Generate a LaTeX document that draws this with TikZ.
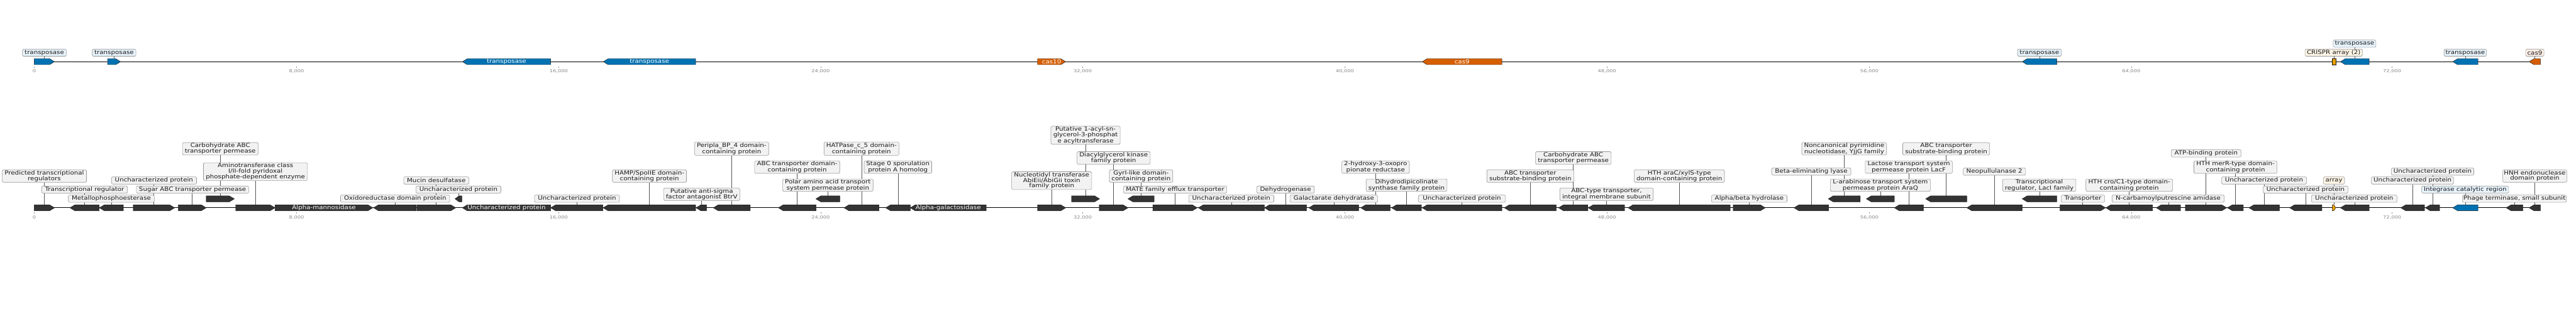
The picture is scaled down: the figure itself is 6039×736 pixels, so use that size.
\documentclass[tikz,border=0pt]{standalone}
\usepackage{fontspec}
\newfontfamily\labfamily[FakeStretch=1.14]{DejaVu Sans}
\newfontfamily\tickfamily[FakeStretch=1.25]{DejaVu Sans}
\definecolor{geneblue}{HTML}{0072B2}
\definecolor{casred}{HTML}{D55E00}
\definecolor{crisprorange}{HTML}{E69F00}
\definecolor{genedark}{HTML}{333333}
\definecolor{lblue}{HTML}{E6F3FB}
\definecolor{lyellow}{HTML}{FDF5E6}
\definecolor{lorange}{HTML}{FCEEE6}
\definecolor{lgray}{HTML}{F2F2F2}
\definecolor{labgray}{HTML}{999999}
\definecolor{leadgray}{HTML}{555555}
\definecolor{tickgray}{HTML}{888888}
\definecolor{textdark}{HTML}{1A1A1A}
\pgfdeclarelayer{bg}
\pgfsetlayers{bg,main}
\tikzset{
  genebody/.style={draw=black!90, line width=0.7pt, line join=miter},
  genenode/.style={inner sep=0pt, minimum height=14pt, text=white, font=\labfamily\fontsize{13.3}{12}\selectfont},
  lab/.style={draw=labgray, line width=0.9pt, rounded corners=2.5pt, inner sep=0pt, align=center, text=textdark, font=\labfamily\fontsize{13.3}{12}\selectfont},
  leader/.style={draw=leadgray, line width=0.8pt},
  backbone/.style={draw=black, line width=1.7pt},
  ticklab/.style={text=tickgray, font=\tickfamily\fontsize{9.8}{10}\selectfont, inner sep=0pt},
  tickmark/.style={draw=tickgray, line width=0.8pt},
}
% forward gene: name, x1, x2, yc, fill, text
\newcommand\GeneF[6]{%
  \path[genebody, fill=#5] (#2,#4-7) -- ({#3-min(11.5,0.6*(#3-#2))},#4-7) -- (#3,#4) -- ({#3-min(11.5,0.6*(#3-#2))},#4+7) -- (#2,#4+7) -- cycle;
  \node[genenode, minimum width={#3-#2}] (#1) at ({(#2+#3)/2},#4) {#6};}
% reverse gene
\newcommand\GeneR[6]{%
  \path[genebody, fill=#5] (#3,#4-7) -- ({#2+min(11.5,0.6*(#3-#2))},#4-7) -- (#2,#4) -- ({#2+min(11.5,0.6*(#3-#2))},#4+7) -- (#3,#4+7) -- cycle;
  \node[genenode, minimum width={#3-#2}] (#1) at ({(#2+#3)/2},#4) {#6};}
% label: name, x1, x2, y1, y2, text, fill
\newcommand\Lbl[7]{%
  \node[lab, fill=#7, minimum width={#3-#2}, minimum height={#5-#4}] (#1) at ({(#2+#3)/2},{(#4+#5)/2}) {#6};}
% leader from gene to label
\newcommand\Ldr[2]{\begin{pgfonlayer}{bg}\draw[leader] (#1.north) -- (#1.north |- #2.south);\end{pgfonlayer}}
% tick: name, x, yline, text
\newcommand\Tck[4]{%
  \draw[tickmark] (#2,#3+11.3) -- (#2,#3+14);
  \node[ticklab] (#1) at (#2,#3+22.6) {#4};}
\begin{document}
\begin{tikzpicture}[x=1pt,y=-1pt]
\useasboundingbox (0,0) rectangle (6039,736);
% ================= TOP TRACK =================
\GeneF{t1}{80.3}{127.7}{144.85}{geneblue}{}
\GeneF{t2}{252.3}{282.7}{144.85}{geneblue}{}
\GeneR{t3}{1084}{1291}{144.85}{geneblue}{transposase}
\GeneR{t4}{1414.3}{1630.7}{144.85}{geneblue}{transposase}
\GeneF{t5}{2432.3}{2498.3}{144.85}{casred}{cas10}
\GeneR{t6}{3334}{3521}{144.85}{casred}{cas9}
\GeneR{t7}{4740.7}{4821.7}{144.85}{geneblue}{}
\node[genebody, fill=crisprorange, inner sep=0pt, minimum width=9pt, minimum height=14pt] (t8) at (5471.5,144.85) {};
\GeneR{t9}{5486.7}{5554}{144.85}{geneblue}{}
\GeneR{t10}{5750}{5809}{144.85}{geneblue}{}
\GeneR{t11}{5929}{5955.3}{144.85}{casred}{}
\begin{pgfonlayer}{bg}\draw[backbone] (t1.west) -- (t11.east);\end{pgfonlayer}
\Lbl{Lt1}{52.7}{155.3}{115.3}{132}{transposase}{lblue}
\Lbl{Lt2}{216.3}{318.7}{115.3}{132}{transposase}{lblue}
\Lbl{Lt7}{4729.7}{4832.3}{115.3}{132}{transposase}{lblue}
\Lbl{Lt8}{5403.7}{5538}{115.3}{132}{CRISPR array (2)}{lyellow}
\Lbl{Lt9}{5469.7}{5570}{94}{110.7}{transposase}{lblue}
\Lbl{Lt10}{5729.7}{5829}{115.3}{132}{transposase}{lblue}
\Lbl{Lt11}{5920.7}{5964}{115.3}{132}{cas9}{lorange}
\Ldr{t1}{Lt1}\Ldr{t2}{Lt2}\Ldr{t7}{Lt7}\Ldr{t8}{Lt8}\Ldr{t9}{Lt9}\Ldr{t10}{Lt10}\Ldr{t11}{Lt11}
\Tck{k0}{80.3}{144.7}{0}
\Tck{k1}{695.3}{144.7}{8,000}
\Tck{k2}{1309.7}{144.7}{16,000}
\Tck{k3}{1924}{144.7}{24,000}
\Tck{k4}{2538.3}{144.7}{32,000}
\Tck{k5}{3153}{144.7}{40,000}
\Tck{k6}{3767.3}{144.7}{48,000}
\Tck{k7}{4382.3}{144.7}{56,000}
\Tck{k8}{4996.3}{144.7}{64,000}
\Tck{k9}{5608}{144.7}{72,000}
% ================= BOTTOM TRACK =================
\GeneF{b1}{80.3}{127.7}{487.85}{genedark}{}
\GeneR{b2}{164}{232.3}{487.85}{genedark}{}
\GeneR{b3}{233}{289.3}{487.85}{genedark}{}
\GeneF{b4}{312.3}{409.3}{487.85}{genedark}{}
\GeneF{b5}{418.3}{483.3}{487.85}{genedark}{}
\GeneF{b6}{483.3}{549.3}{466.85}{genedark}{}
\GeneF{b7}{552.7}{644.7}{487.85}{genedark}{}
\GeneF{b8}{644.7}{874}{487.85}{genedark}{Alpha-mannosidase}
\GeneR{b9}{875.7}{975.7}{487.85}{genedark}{}
\GeneF{b10}{977.3}{1068.3}{487.85}{genedark}{}
\GeneR{b11}{1066.7}{1082.7}{466.85}{genedark}{}
\GeneR{b12}{1084}{1291}{487.85}{genedark}{Uncharacterized protein}
\GeneR{b13}{1291}{1413.3}{487.85}{genedark}{}
\GeneR{b14}{1414}{1630.7}{487.85}{genedark}{}
\GeneR{b15}{1631.7}{1656.3}{487.85}{genedark}{}
\GeneR{b16}{1672.3}{1758.7}{487.85}{genedark}{}
\GeneR{b17}{1824.7}{1913.3}{487.85}{genedark}{}
\GeneR{b18}{1912.7}{1968.7}{466.85}{genedark}{}
\GeneR{b19}{1978.7}{2060.7}{487.85}{genedark}{}
\GeneR{b20}{2076.3}{2134}{487.85}{genedark}{}
\GeneR{b21}{2134}{2312}{487.85}{genedark}{Alpha-galactosidase}
\GeneF{b22}{2432.3}{2498.3}{487.85}{genedark}{}
\GeneF{b23}{2512}{2577.7}{466.85}{genedark}{}
\GeneF{b24}{2577}{2644.3}{487.85}{genedark}{}
\GeneR{b25}{2644.3}{2705.7}{466.85}{genedark}{}
\GeneF{b26}{2702.7}{2806.7}{487.85}{genedark}{}
\GeneR{b27}{2809.3}{2964}{487.85}{genedark}{}
\GeneR{b28}{2964.3}{3062.7}{487.85}{genedark}{}
\GeneR{b29}{3068.3}{3185.3}{487.85}{genedark}{}
\GeneR{b30}{3190}{3258.7}{487.85}{genedark}{}
\GeneR{b31}{3262.3}{3332.3}{487.85}{genedark}{}
\GeneR{b32}{3334}{3521}{487.85}{genedark}{}
\GeneR{b33}{3526.7}{3648}{487.85}{genedark}{}
\GeneR{b34}{3653.7}{3722.7}{487.85}{genedark}{}
\GeneR{b35}{3723.3}{3808.3}{487.85}{genedark}{}
\GeneR{b36}{3816.7}{4056}{487.85}{genedark}{}
\GeneF{b37}{4063}{4138.3}{487.85}{genedark}{}
\GeneR{b38}{4205.7}{4286.7}{487.85}{genedark}{}
\GeneR{b39}{4286}{4361}{466.85}{genedark}{}
\GeneR{b40}{4375.3}{4441}{466.85}{genedark}{}
\GeneR{b41}{4441}{4509.3}{487.85}{genedark}{}
\GeneR{b42}{4514.3}{4611}{466.85}{genedark}{}
\GeneR{b43}{4611}{4740.7}{487.85}{genedark}{}
\GeneR{b44}{4740.7}{4821.7}{466.85}{genedark}{}
\GeneF{b45}{4829.3}{4936}{487.85}{genedark}{}
\GeneR{b46}{4936.7}{5046.3}{487.85}{genedark}{}
\GeneR{b47}{5055}{5111.7}{487.85}{genedark}{}
\GeneF{b48}{5123.3}{5220}{487.85}{genedark}{}
\GeneR{b49}{5221.7}{5259}{487.85}{genedark}{}
\GeneR{b50}{5272.3}{5343.7}{487.85}{genedark}{}
\GeneR{b51}{5367.7}{5443.3}{487.85}{genedark}{}
\GeneF{b52}{5467.3}{5476}{487.85}{crisprorange}{}
\GeneR{b53}{5486.7}{5554}{487.85}{genedark}{}
\GeneR{b54}{5628.3}{5683.7}{487.85}{genedark}{}
\GeneR{b55}{5685.7}{5719.3}{487.85}{genedark}{}
\GeneR{b56}{5750}{5809}{487.85}{geneblue}{}
\GeneR{b57}{5875.3}{5914.3}{487.85}{genedark}{}
\GeneR{b58}{5929}{5955.3}{487.85}{genedark}{}
\begin{pgfonlayer}{bg}\draw[backbone] (b1.west) -- (b58.east);\end{pgfonlayer}
\Lbl{L1}{5}{202.7}{398.7}{428}{Predicted transcriptional\\regulators}{lgray}
\Lbl{L2}{97.7}{299}{436.7}{453.7}{Transcriptional regulator}{lgray}
\Lbl{L3}{160.3}{361.7}{458}{475}{Metallophosphoesterase}{lgray}
\Lbl{L4}{261.3}{460.7}{415.3}{432.3}{Uncharacterized protein}{lgray}
\Lbl{L5}{319.7}{583}{436.7}{453.7}{Sugar ABC transporter permease}{lgray}
\Lbl{L6}{427.7}{605}{334.7}{364}{Carbohydrate ABC\\transporter permease}{lgray}
\Lbl{L7}{477}{720.7}{382}{423.7}{Aminotransferase class\\I/II-fold pyridoxal\\phosphate-dependent enzyme}{lgray}
\Lbl{L9}{798.3}{1054.3}{458}{475}{Oxidoreductase domain protein}{lgray}
\Lbl{L10}{946.3}{1099.3}{415.3}{432.3}{Mucin desulfatase}{lgray}
\Lbl{L11}{975}{1174.3}{436.7}{453.7}{Uncharacterized protein}{lgray}
\Lbl{L13}{1253}{1452.3}{458}{475}{Uncharacterized protein}{lgray}
\Lbl{L14}{1435.7}{1609.3}{398.7}{428}{HAMP/SpoIIE domain-\\containing protein}{lgray}
\Lbl{L15}{1555.7}{1734.3}{441.3}{470.7}{Putative anti-sigma\\factor antagonist BtrV}{lgray}
\Lbl{L16}{1628.3}{1802}{333.3}{364.7}{Peripla\_BP\_4 domain-\\containing protein}{lgray}
\Lbl{L17}{1769}{1968.7}{377.7}{407}{ABC transporter domain-\\containing protein}{lgray}
\Lbl{L18}{1834.7}{2046.7}{420.3}{449.3}{Polar amino acid transport\\system permease protein}{lgray}
\Lbl{L19}{1931.7}{2107.3}{333.3}{364.7}{HATPase\_c\_5 domain-\\containing protein}{lgray}
\Lbl{L20}{2025.7}{2184.3}{377.7}{407}{Stage 0 sporulation\\protein A homolog}{lgray}
\Lbl{L22}{2371.7}{2559.3}{403.3}{445}{Nucleotidyl transferase\\AbiEii/AbiGii toxin\\family protein}{lgray}
\Lbl{L23}{2463.7}{2626}{296.3}{338.7}{Putative 1-acyl-sn-\\glycerol-3-phosphat\\e acyltransferase}{lgray}
\Lbl{L24}{2525}{2696.3}{356}{385.7}{Diacylglycerol kinase\\family protein}{lgray}
\Lbl{L25}{2600.7}{2749.3}{398.7}{428}{GyrI-like domain-\\containing protein}{lgray}
\Lbl{L26}{2633.7}{2876}{436.7}{453.7}{MATE family efflux transporter}{lgray}
\Lbl{L27}{2786.7}{2986.3}{458}{475}{Uncharacterized protein}{lgray}
\Lbl{L28}{2946.3}{3081}{436.7}{453.7}{Dehydrogenase}{lgray}
\Lbl{L29}{3024}{3229.7}{458}{475}{Galactarate dehydratase}{lgray}
\Lbl{L30}{3145.7}{3304}{377.7}{407}{2-hydroxy-3-oxopro\\pionate reductase}{lgray}
\Lbl{L31}{3202.7}{3392.3}{420.3}{449.3}{Dihydrodipicolinate\\synthase family protein}{lgray}
\Lbl{L32}{3325}{3529.3}{458}{475}{Uncharacterized protein}{lgray}
\Lbl{L33}{3485.7}{3689.3}{398.7}{428}{ABC transporter\\substrate-binding protein}{lgray}
\Lbl{L34}{3599.7}{3777}{356}{385.7}{Carbohydrate ABC\\transporter permease}{lgray}
\Lbl{L35}{3656.7}{3875.7}{441.3}{470.7}{ABC-type transporter,\\integral membrane subunit}{lgray}
\Lbl{L36}{3831}{4042.7}{398.7}{428}{HTH araC/xylS-type\\domain-containing protein}{lgray}
\Lbl{L37}{4012.3}{4189.3}{458}{475}{Alpha/beta hydrolase}{lgray}
\Lbl{L38}{4153.3}{4339}{394.3}{411.3}{Beta-eliminating lyase}{lgray}
\Lbl{L39}{4224}{4422.7}{334.7}{364}{Noncanonical pyrimidine\\nucleotidase, YjjG family}{lgray}
\Lbl{L40}{4291}{4525.3}{420.3}{449.3}{L-arabinose transport system\\permease protein AraQ}{lgray}
\Lbl{L41}{4372.7}{4577}{377.7}{407}{Lactose transport system\\permease protein LacF}{lgray}
\Lbl{L42}{4460.7}{4664.3}{334.7}{364}{ABC transporter\\substrate-binding protein}{lgray}
\Lbl{L43}{4602.3}{4748.7}{394.3}{411.3}{Neopullulanase 2}{lgray}
\Lbl{L44}{4694.7}{4866.7}{420.3}{449.3}{Transcriptional\\regulator, LacI family}{lgray}
\Lbl{L45}{4832}{4934}{458}{475}{Transporter}{lgray}
\Lbl{L46}{4890}{5093.3}{420.3}{449.3}{HTH cro/C1-type domain-\\containing protein}{lgray}
\Lbl{L47}{4951.3}{5214.3}{458}{475}{N-carbamoylputrescine amidase}{lgray}
\Lbl{L48}{5090}{5253.7}{351.3}{368.7}{ATP-binding protein}{lgray}
\Lbl{L49}{5143.3}{5338}{377.7}{407}{HTH merR-type domain-\\containing protein}{lgray}
\Lbl{L50}{5208}{5407.3}{415.3}{432.3}{Uncharacterized protein}{lgray}
\Lbl{L51}{5305.7}{5504.3}{436.7}{453.7}{Uncharacterized protein}{lgray}
\Lbl{L52}{5446.7}{5496.3}{415.3}{432.3}{array}{lyellow}
\Lbl{L53}{5418.7}{5619.3}{458}{475}{Uncharacterized protein}{lgray}
\Lbl{L54}{5559.3}{5752.3}{415.3}{432.3}{Uncharacterized protein}{lgray}
\Lbl{L55}{5606}{5799.3}{394.3}{411.3}{Uncharacterized protein}{lgray}
\Lbl{L56}{5677.3}{5881}{436.7}{453.7}{Integrase catalytic region}{lblue}
\Lbl{L57}{5772.7}{6016.3}{458}{475}{Phage terminase, small subunit}{lgray}
\Lbl{L58}{5867.3}{6017.3}{398.7}{428}{HNH endonuclease\\domain protein}{lgray}
\Ldr{b1}{L1}\Ldr{b2}{L2}\Ldr{b3}{L3}\Ldr{b4}{L4}\Ldr{b5}{L5}\Ldr{b6}{L6}\Ldr{b7}{L7}
\Ldr{b9}{L9}\Ldr{b10}{L10}\Ldr{b11}{L11}\Ldr{b13}{L13}\Ldr{b14}{L14}\Ldr{b15}{L15}
\Ldr{b16}{L16}\Ldr{b17}{L17}\Ldr{b18}{L18}\Ldr{b19}{L19}\Ldr{b20}{L20}\Ldr{b22}{L22}
\Ldr{b23}{L23}\Ldr{b24}{L24}\Ldr{b25}{L25}\Ldr{b26}{L26}\Ldr{b27}{L27}\Ldr{b28}{L28}
\Ldr{b29}{L29}\Ldr{b30}{L30}\Ldr{b31}{L31}\Ldr{b32}{L32}\Ldr{b33}{L33}\Ldr{b34}{L34}
\Ldr{b35}{L35}\Ldr{b36}{L36}\Ldr{b37}{L37}\Ldr{b38}{L38}\Ldr{b39}{L39}\Ldr{b40}{L40}
\Ldr{b41}{L41}\Ldr{b42}{L42}\Ldr{b43}{L43}\Ldr{b44}{L44}\Ldr{b45}{L45}\Ldr{b46}{L46}
\Ldr{b47}{L47}\Ldr{b48}{L48}\Ldr{b49}{L49}\Ldr{b50}{L50}\Ldr{b51}{L51}\Ldr{b52}{L52}
\Ldr{b53}{L53}\Ldr{b54}{L54}\Ldr{b55}{L55}\Ldr{b56}{L56}\Ldr{b57}{L57}\Ldr{b58}{L58}
\Tck{m0}{80.3}{487.7}{0}
\Tck{m1}{695.3}{487.7}{8,000}
\Tck{m2}{1309.7}{487.7}{16,000}
\Tck{m3}{1924}{487.7}{24,000}
\Tck{m4}{2538.3}{487.7}{32,000}
\Tck{m5}{3153}{487.7}{40,000}
\Tck{m6}{3767.3}{487.7}{48,000}
\Tck{m7}{4382.3}{487.7}{56,000}
\Tck{m8}{4996.3}{487.7}{64,000}
\Tck{m9}{5608}{487.7}{72,000}
\end{tikzpicture}
\end{document}
